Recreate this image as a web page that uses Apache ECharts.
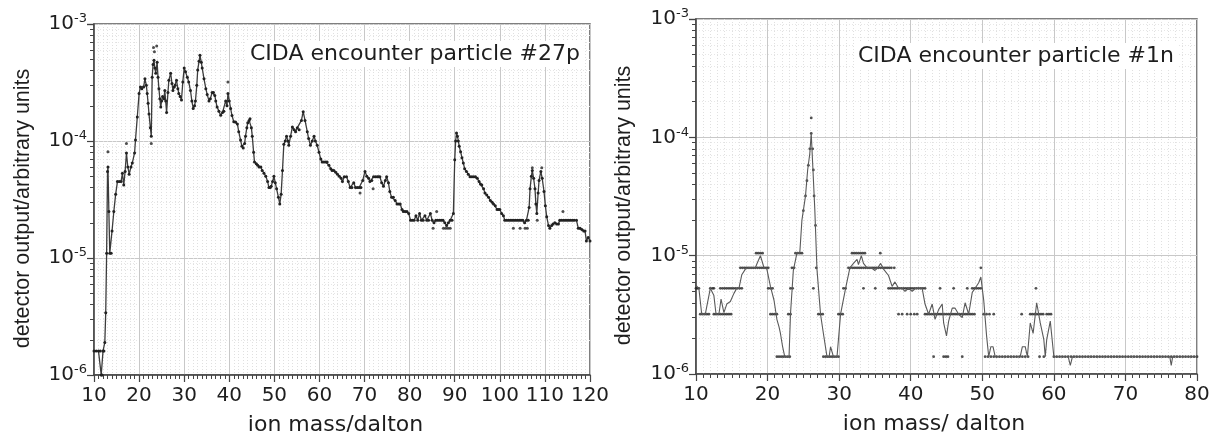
<!DOCTYPE html>
<html><head><meta charset="utf-8">
<script src="https://cdn.jsdelivr.net/npm/echarts@6/dist/echarts.min.js"></script>
<style>html,body{margin:0;padding:0;background:#fff}#c{width:1215px;height:432px}</style>
</head><body><div id="c"></div>
<script>
// ---------- DATA ----------
const panelTitles = ['CIDA encounter particle #27p', 'CIDA encounter particle #1n'];
const xAxisNames = ['ion mass/dalton', 'ion mass/ dalton'];
const yAxisName = 'detector output/arbitrary units';

// left panel: spectrum [mass, signal]
const leftSpectrum = [
[10,1.6e-6],[10.5,1.6e-6],[11,1.6e-6],[11.4,1.6e-6],[11.6,1.0e-6],[11.8,1.0e-6],[12,1.6e-6],[12.2,1.6e-6],[12.4,1.9e-6],[12.6,3.4e-6],
[12.8,1.1e-5],[13,5.5e-5],[13.1,6.0e-5],[13.3,2.5e-5],[13.5,1.1e-5],[13.8,1.1e-5],[14,1.7e-5],[14.4,2.5e-5],[14.8,3.5e-5],[15.2,4.5e-5],
[15.6,4.5e-5],[16,4.5e-5],[16.3,5.3e-5],[16.6,4.2e-5],[16.9,5.5e-5],[17.2,7.9e-5],[17.5,6.0e-5],[17.8,5.2e-5],[18.2,6.0e-5],[18.5,6.5e-5],
[19,7.9e-5],[19.2,1.02e-4],[19.6,1.6e-4],[20,2.55e-4],[20.3,2.9e-4],[20.6,2.8e-4],[21,2.9e-4],[21.3,3.4e-4],[21.6,3.0e-4],[21.8,2.55e-4],
[22,2.1e-4],[22.2,1.7e-4],[22.5,1.3e-4],[22.7,1.1e-4],[22.9,3.5e-4],[23.1,4.5e-4],[23.3,4.9e-4],[23.5,4.2e-4],[23.7,3.8e-4],[24,4.7e-4],
[24.2,3.5e-4],[24.4,2.8e-4],[24.6,2.3e-4],[24.8,1.95e-4],[25,2.2e-4],[25.2,2.4e-4],[25.5,2.3e-4],[25.7,2.7e-4],[25.9,2.2e-4],[26.1,1.75e-4],
[26.4,2.6e-4],[26.6,3.3e-4],[27,3.8e-4],[27.3,3.1e-4],[27.5,2.7e-4],[27.8,2.9e-4],[28,3.0e-4],[28.3,3.3e-4],[28.6,2.8e-4],[28.8,2.55e-4],
[29.1,2.4e-4],[29.4,2.24e-4],[29.7,3.2e-4],[30,4.2e-4],[30.3,3.9e-4],[30.7,3.5e-4],[31,3.2e-4],[31.4,2.7e-4],[31.7,2.2e-4],[32,1.9e-4],
[32.3,2.0e-4],[32.5,2.2e-4],[32.8,3.0e-4],[33,4.05e-4],[33.3,4.8e-4],[33.5,5.4e-4],[33.8,4.7e-4],[34,4.2e-4],[34.4,3.4e-4],[34.8,2.8e-4],
[35.1,2.5e-4],[35.5,2.2e-4],[35.8,2.3e-4],[36.2,2.6e-4],[36.5,2.6e-4],[36.8,2.45e-4],[37,2.2e-4],[37.3,1.95e-4],[37.7,1.8e-4],[38.1,1.66e-4],
[38.5,1.75e-4],[38.8,1.8e-4],[39.2,2.2e-4],[39.5,2.0e-4],[39.7,2.55e-4],[40,2.2e-4],[40.3,1.9e-4],[40.6,1.65e-4],[41,1.46e-4],[41.4,1.45e-4],
[41.8,1.4e-4],[42.1,1.2e-4],[42.5,1.02e-4],[42.8,9.0e-5],[43.1,8.7e-5],[43.4,9.5e-5],[43.6,1.1e-4],[43.9,1.3e-4],[44.1,1.43e-4],[44.4,1.5e-4],
[44.6,1.55e-4],[44.9,1.3e-4],[45.1,1.1e-4],[45.4,8.0e-5],[45.6,6.6e-5],[46,6.4e-5],[46.3,6.2e-5],[46.6,6.0e-5],[47,6.0e-5],[47.3,5.6e-5],
[47.7,5.3e-5],[48.1,5.0e-5],[48.5,4.5e-5],[48.8,4.0e-5],[49.1,4.0e-5],[49.3,4.1e-5],[49.6,4.5e-5],[49.9,5.0e-5],[50.2,4.4e-5],[50.5,3.9e-5],
[50.9,3.3e-5],[51.2,2.9e-5],[51.5,3.5e-5],[51.8,5.6e-5],[52.1,9.4e-5],[52.4,1.0e-4],[52.7,1.1e-4],[53,1.0e-4],[53.2,9.2e-5],[53.6,1.1e-4],
[54,1.32e-4],[54.4,1.25e-4],[54.7,1.2e-4],[55.1,1.3e-4],[55.5,1.25e-4],[56,1.5e-4],[56.4,1.78e-4],[56.8,1.5e-4],[57.3,1.2e-4],[57.6,1.05e-4],
[58,9.2e-5],[58.4,1.0e-4],[58.8,1.1e-4],[59.1,1.0e-4],[59.5,9.2e-5],[59.9,8.0e-5],[60.3,7.0e-5],[60.6,6.6e-5],[61,6.6e-5],[61.4,6.6e-5],
[61.7,6.6e-5],[62.1,6.2e-5],[62.5,5.8e-5],[62.8,5.6e-5],[63.2,5.6e-5],[63.6,5.4e-5],[64,5.2e-5],[64.4,5.0e-5],[64.8,4.8e-5],[65.1,4.5e-5],
[65.5,4.95e-5],[66,4.95e-5],[66.4,4.5e-5],[66.8,4.0e-5],[67.2,4.0e-5],[67.6,4.4e-5],[68,4.0e-5],[68.4,4.0e-5],[68.8,4.0e-5],[69.2,4.0e-5],
[69.6,4.6e-5],[70.1,5.5e-5],[70.5,5.0e-5],[70.9,4.8e-5],[71.2,4.5e-5],[71.6,4.6e-5],[72,4.95e-5],[72.4,4.95e-5],[72.8,4.95e-5],[73.1,4.95e-5],
[73.4,4.95e-5],[73.8,4.4e-5],[74.2,4.1e-5],[74.6,4.6e-5],[74.9,4.95e-5],[75.3,4.4e-5],[75.6,3.7e-5],[76,3.3e-5],[76.4,3.3e-5],[76.8,3.1e-5],
[77.2,2.9e-5],[77.6,2.9e-5],[77.9,2.9e-5],[78.3,2.6e-5],[78.6,2.5e-5],[79,2.5e-5],[79.4,2.5e-5],[79.8,2.4e-5],[80.2,2.1e-5],[80.6,2.1e-5],
[81,2.1e-5],[81.4,2.3e-5],[81.8,2.1e-5],[82.2,2.4e-5],[82.6,2.1e-5],[83,2.1e-5],[83.4,2.3e-5],[83.8,2.1e-5],[84.2,2.1e-5],[84.6,2.4e-5],
[85,2.1e-5],[85.4,2.0e-5],[85.8,2.1e-5],[86.2,2.1e-5],[86.6,2.1e-5],[87,2.1e-5],[87.4,2.1e-5],[87.8,2.0e-5],[88.2,1.9e-5],[88.6,2.0e-5],
[89,2.1e-5],[89.4,2.1e-5],[89.7,2.4e-5],[90,6.9e-5],[90.2,1.0e-4],[90.4,1.17e-4],[90.6,1.1e-4],[90.8,1.0e-4],[91,9.0e-5],[91.3,8.1e-5],
[91.6,7.2e-5],[91.9,6.5e-5],[92.2,5.8e-5],[92.6,5.5e-5],[93,5.2e-5],[93.4,4.95e-5],[93.8,4.95e-5],[94.2,4.95e-5],[94.6,4.95e-5],[95,4.8e-5],
[95.4,4.5e-5],[95.7,4.3e-5],[96,4.2e-5],[96.4,3.9e-5],[96.7,3.6e-5],[97.1,3.45e-5],[97.5,3.3e-5],[97.9,3.1e-5],[98.3,3.0e-5],[98.6,2.9e-5],
[99,2.8e-5],[99.4,2.6e-5],[99.7,2.6e-5],[100,2.6e-5],[100.4,2.4e-5],[100.8,2.3e-5],[101.1,2.1e-5],[101.5,2.1e-5],[101.9,2.1e-5],[102.3,2.1e-5],
[102.7,2.1e-5],[103.1,2.1e-5],[103.5,2.1e-5],[103.9,2.1e-5],[104.3,2.1e-5],[104.7,2.1e-5],[105.1,2.1e-5],[105.5,2.0e-5],[105.9,2.1e-5],[106.3,2.1e-5],
[106.5,2.7e-5],[106.7,3.9e-5],[107,5.0e-5],[107.2,5.6e-5],[107.5,4.8e-5],[107.8,3.9e-5],[108,2.9e-5],[108.2,2.4e-5],[108.5,3.6e-5],[108.7,4.6e-5],
[109.1,5.5e-5],[109.4,4.8e-5],[109.8,3.7e-5],[110.1,2.8e-5],[110.4,2.25e-5],[110.8,1.9e-5],[111.1,1.8e-5],[111.5,1.9e-5],[111.8,1.95e-5],[112.2,2.0e-5],
[112.6,1.95e-5],[113,1.95e-5],[113.3,2.1e-5],[113.7,2.1e-5],[114.1,2.1e-5],[114.5,2.1e-5],[114.9,2.1e-5],[115.3,2.1e-5],[115.7,2.1e-5],[116.1,2.1e-5],
[116.5,2.1e-5],[117,2.1e-5],[117.4,1.8e-5],[117.8,1.8e-5],[118.2,1.75e-5],[118.6,1.7e-5],[118.9,1.7e-5],[119.2,1.4e-5],[119.6,1.5e-5],[120,1.4e-5]
];
// left panel: stray raw samples off the line
const leftStray = [
[13.1,8.1e-5],[17.2,9.5e-5],[22.7,9.5e-5],[23.2,6.3e-4],[23.4,5.8e-4],[23.9,6.5e-4],[39.7,3.2e-4],[69,3.6e-5],[71.9,3.9e-5],
[85.2,1.8e-5],[86,2.5e-5],[87.5,1.8e-5],[88,1.8e-5],[88.5,1.8e-5],[89,1.8e-5],[103,1.8e-5],[104.5,1.8e-5],[105.6,1.8e-5],[106.1,1.8e-5],
[107.2,5.9e-5],[108.3,2.1e-5],[109.3,5.9e-5],[114,2.5e-5]
];

// right panel: smoothed trace [mass, signal]
const rightTrace = [
[10,5.6e-6],[10.4,5.3e-6],[10.8,3.2e-6],[11.3,3.2e-6],[11.5,3.2e-6],[12,5.3e-6],[12.5,4.6e-6],[12.8,3.2e-6],[13.2,3.2e-6],[13.5,4.3e-6],
[13.9,3.3e-6],[14.3,3.9e-6],[14.8,4.1e-6],[15.3,4.8e-6],[15.7,5.3e-6],[16,5.3e-6],[16.4,6.9e-6],[16.9,7.7e-6],[17.4,7.9e-6],[17.8,7.9e-6],
[18.3,7.9e-6],[18.5,8.5e-6],[19,1.0e-5],[19.5,7.9e-6],[19.9,7.7e-6],[20.4,5.5e-6],[20.9,4.2e-6],[21.3,2.9e-6],[21.6,2.5e-6],[21.8,2.2e-6],
[22.1,1.7e-6],[22.4,1.4e-6],[22.7,1.4e-6],[23,1.4e-6],[23.2,3.2e-6],[23.6,7.5e-6],[24.1,1.05e-5],[24.5,1.05e-5],[24.8,2.0e-5],[25.3,3.2e-5],
[25.6,5.3e-5],[25.9,7.3e-5],[26.1,1.08e-4],[26.3,6.0e-5],[26.6,2.45e-5],[26.9,7.7e-6],[27.4,3.2e-6],[27.8,2.2e-6],[28.3,1.4e-6],[28.6,1.4e-6],
[28.8,1.7e-6],[29.2,1.4e-6],[29.7,1.4e-6],[30.2,3.2e-6],[30.9,5.3e-6],[31.5,7.9e-6],[32,8.6e-6],[32.5,9.3e-6],[32.7,8.4e-6],[33.1,1.0e-5],
[33.4,8.6e-6],[33.9,7.9e-6],[34.5,7.9e-6],[35,7.5e-6],[35.4,7.9e-6],[35.8,8.6e-6],[36.2,7.7e-6],[36.9,6.8e-6],[37.4,5.5e-6],[37.8,6.0e-6],
[38.3,5.3e-6],[38.8,5.3e-6],[39.2,5.0e-6],[39.7,5.3e-6],[40.2,5.0e-6],[40.7,5.3e-6],[41.2,5.3e-6],[41.6,5.3e-6],[42,3.9e-6],[42.5,3.2e-6],
[43,3.9e-6],[43.4,2.9e-6],[43.9,3.5e-6],[44.4,3.9e-6],[44.6,2.7e-6],[45,2.1e-6],[45.3,2.8e-6],[45.8,3.6e-6],[46.2,3.6e-6],[46.7,3.2e-6],
[47.2,3.0e-6],[47.6,4.0e-6],[48.1,3.2e-6],[48.6,4.9e-6],[49,5.3e-6],[49.5,5.9e-6],[49.8,6.6e-6],[50.2,4.2e-6],[50.6,2.1e-6],[50.9,1.4e-6],
[51.2,1.7e-6],[51.5,1.7e-6],[51.8,1.4e-6],[52.5,1.4e-6],[53.5,1.4e-6],[54.5,1.4e-6],[55.3,1.4e-6],[55.6,1.7e-6],[56,1.7e-6],[56.3,1.4e-6],
[56.7,2.7e-6],[57.1,2.2e-6],[57.6,4.0e-6],[58.1,2.7e-6],[58.6,1.95e-6],[58.8,1.4e-6],[59,1.95e-6],[59.5,2.8e-6],[60,1.4e-6],[61,1.4e-6],
[62,1.4e-6],[62.3,1.18e-6],[62.6,1.4e-6],[64,1.4e-6],[66,1.4e-6],[68,1.4e-6],[70,1.4e-6],[72,1.4e-6],[74,1.4e-6],[76.2,1.4e-6],
[76.4,1.18e-6],[76.6,1.4e-6],[78,1.4e-6],[80,1.4e-6]
];
// right panel: raw (quantised) samples, grouped by level
const rightRawLevels = [1.05e-5, 7.9e-6, 5.3e-6, 3.2e-6, 1.4e-6];
const rightRawMasses = [
  [18.4,18.7,19.0,19.3,23.9,24.2,24.5,24.8,31.8,32.1,32.4,32.7,33.0,33.3,33.6,35.75],
  [9.9,16.2,16.5,16.8,17.1,17.4,17.7,18.0,18.3,18.6,18.9,19.2,19.5,19.8,20.1,23.4,23.7,26.8,31.3,31.6,31.9,32.2,32.5,32.8,33.1,33.4,33.7,34.0,34.3,34.6,34.9,35.2,35.5,35.8,36.1,36.4,36.7,37.0,37.3,37.7,49.8],
  [10.0,10.2,10.4,12.0,12.3,12.5,13.4,13.7,14.0,14.3,14.6,14.9,15.2,15.5,15.8,16.1,16.4,20.1,20.4,20.7,23.2,23.5,26.4,30.6,30.9,33.4,35.05,36.9,37.2,37.5,37.8,38.1,38.4,38.7,39.0,39.3,39.6,39.9,40.2,40.5,40.8,41.1,41.4,41.7,42.0,44.1,46.0,47.9,48.6,48.9,49.2,49.5,49.8,57.5],
  [10.6,10.9,11.2,11.5,11.8,12.5,12.8,13.1,13.4,13.7,14.0,14.3,14.6,14.9,20.4,20.7,21.0,21.3,22.9,23.2,27.1,27.4,27.7,29.9,30.2,30.5,38.3,38.8,39.5,40.0,40.5,40.9,42.0,42.3,42.6,42.9,43.2,43.5,43.8,44.1,44.4,44.7,45.0,45.3,45.6,45.9,46.2,46.5,46.8,47.1,47.4,47.7,48.0,48.3,48.6,48.9,50.2,50.6,51.0,51.6,55.5,56.7,57.0,57.3,57.6,57.9,58.2,58.5,59.0,59.3,59.6],
  [21.3,21.6,21.9,22.2,22.5,22.8,23.1,27.8,28.1,28.4,28.7,29.0,29.3,29.6,29.9,43.2,44.6,44.9,45.2,47.2,50.4,50.8,51.2,51.6,52.0,52.4,52.8,53.2,53.6,54.0,54.4,54.8,55.2,55.6,56.0,56.4,58.0,58.6,60.0,60.4,60.8,61.2,61.6,62.0,62.4,62.8,63.2,63.6,64.0,64.4,64.8,65.2,65.6,66.0,66.4,66.8,67.2,67.6,68.0,68.4,68.8,69.2,69.6,70.0,70.4,70.8,71.2,71.6,72.0,72.4,72.8,73.2,73.6,74.0,74.4,74.8,75.2,75.6,76.0,76.4,76.8,77.2,77.6,78.0,78.4,78.8,79.2,79.6,80.0]
];
// right panel: raw samples on the big peak
const rightPeakRaw = [[25.0,2.4e-5],[25.3,3.2e-5],[25.5,4.3e-5],[25.7,5.8e-5],[25.9,8.0e-5],[26.1,1.08e-4],[26.1,1.46e-4],[26.3,8.0e-5],[26.4,5.3e-5],[26.5,3.2e-5],[26.7,1.8e-5]];

// ---------- CHART ----------
const F = "'DejaVu Sans', 'Liberation Sans', Arial, sans-serif";
const FN = "'Liberation Sans', Arial, Helvetica, sans-serif";
const TXT = '#1e1e1e';
const chart = echarts.init(document.getElementById('c'), null, {renderer: 'canvas'});

const rightRaw = [];
rightRawLevels.forEach((lv, i) => rightRawMasses[i].forEach(m => rightRaw.push([m, lv])));
rightPeakRaw.forEach(p => rightRaw.push(p));

function xAxis(gi, max, name, shift) {
  return {
    type: 'value', gridIndex: gi, min: 10, max: max, interval: 10,
    name: name, nameLocation: 'middle', nameGap: 39,
    nameTextStyle: {fontSize: 22, color: TXT, fontFamily: F, padding: [0, shift, 0, 0]},
    axisLine: {show: true, onZero: false, lineStyle: {color: '#444', width: 1.5}},
    axisTick: {show: true, length: 7, lineStyle: {color: '#444', width: 1.2}},
    minorTick: {show: true, splitNumber: 10, length: 4, lineStyle: {color: '#444', width: 1}},
    splitLine: {show: true, lineStyle: {color: '#c8c8c8', width: 1}},
    minorSplitLine: {show: true, lineStyle: {color: '#e0e0e0', width: 1, type: [1, 2]}},
    axisLabel: {fontSize: 20, color: TXT, fontFamily: F, margin: 11}
  };
}
function yAxis(gi, gap) {
  return {
    type: 'log', logBase: 10, gridIndex: gi, min: 1e-6, max: 1e-3,
    name: yAxisName, nameLocation: 'middle', nameGap: gap,
    nameTextStyle: {fontSize: 21.5, color: TXT, fontFamily: FN, padding: [0, 18, 0, 0]},
    axisLine: {show: true, lineStyle: {color: '#444', width: 1.5}},
    axisTick: {show: true, length: 7, lineStyle: {color: '#444', width: 1.2}},
    minorTick: {show: true, splitNumber: 9, length: 4, lineStyle: {color: '#444', width: 1}},
    splitLine: {show: true, lineStyle: {color: '#c8c8c8', width: 1}},
    minorSplitLine: {show: true, lineStyle: {color: '#e6e6e6', width: 1, type: [1, 2]}},
    axisLabel: {
      margin: 7,
      formatter: function (v) { return '{b|10}{s|' + Math.round(Math.log10(v)) + '}'; },
      rich: {
        b: {fontSize: 20, color: TXT, fontFamily: F},
        s: {fontSize: 13, color: TXT, fontFamily: F, verticalAlign: 'bottom', padding: [0, 0, 10, 0]}
      }
    }
  };
}

chart.setOption({
  backgroundColor: '#fff',
  animation: false,
  title: [
    {text: panelTitles[0], left: 246, top: 41, padding: [2, 4], backgroundColor: '#fff',
     textStyle: {fontSize: 22, fontWeight: 'normal', color: TXT, fontFamily: F}},
    {text: panelTitles[1], left: 854, top: 43, padding: [2, 4], backgroundColor: '#fff',
     textStyle: {fontSize: 22, fontWeight: 'normal', color: TXT, fontFamily: F}}
  ],
  grid: [
    {left: 94, right: 625, top: 24, bottom: 57, show: true, borderColor: '#555', borderWidth: 1.5, backgroundColor: '#fff', outerBoundsMode: 'none', containLabel: false},
    {left: 696, right: 18, top: 19, bottom: 58, show: true, borderColor: '#555', borderWidth: 1.5, backgroundColor: '#fff', outerBoundsMode: 'none', containLabel: false}
  ],
  xAxis: [xAxis(0, 120, xAxisNames[0], 13), xAxis(1, 80, xAxisNames[1], 25)],
  yAxis: [yAxis(0, 60), yAxis(1, 61)],
  series: [
    {type: 'line', xAxisIndex: 0, yAxisIndex: 0, data: leftSpectrum, showSymbol: true, symbol: 'circle', symbolSize: 3,
     itemStyle: {color: '#222'}, lineStyle: {color: '#3c3c3c', width: 1.3}},
    {type: 'scatter', xAxisIndex: 0, yAxisIndex: 0, data: leftStray, symbolSize: 3, itemStyle: {color: '#222'}},
    {type: 'line', xAxisIndex: 1, yAxisIndex: 1, data: rightTrace, showSymbol: false,
     lineStyle: {color: '#5a5a5a', width: 1.1}},
    {type: 'scatter', xAxisIndex: 1, yAxisIndex: 1, data: rightRaw, symbolSize: 2.8, itemStyle: {color: '#262626'}}
  ]
});
</script>
</body></html>
